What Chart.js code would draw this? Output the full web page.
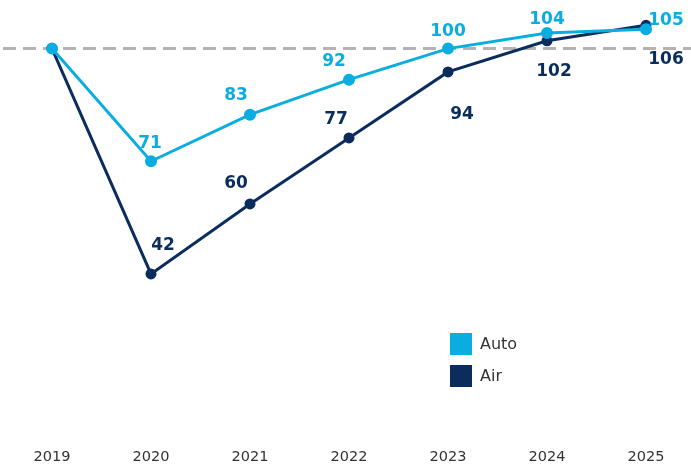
<!DOCTYPE html>
<html>
<head>
<meta charset="utf-8">
<script src="https://cdn.jsdelivr.net/npm/chart.js@4/dist/chart.umd.min.js"></script>
<style>
  html, body { margin: 0; padding: 0; background: #fff; }
  #wrap { width: 691px; height: 464px; position: relative; }
</style>
</head>
<body>
<div id="wrap"><canvas id="chart"></canvas></div>
<script>
const years = ['2019', '2020', '2021', '2022', '2023', '2024', '2025'];
const autoValues = [100, 71, 83, 92, 100, 104, 105];
const airValues = [100, 42, 60, 77, 94, 102, 106];
const baseline = 100;

const AUTO_COLOR = '#0aade0';
const AIR_COLOR = '#0b2d5e';

// label nudges (px) relative to each point; first point has no label
const autoLabelOffsets = [null, [-1, -18], [-14, -19], [-15, -18], [0, -17], [0, -13], [20, -9]];
const airLabelOffsets = [null, [12, -28], [-14, -20], [-13, -18], [14, 43], [7, 31], [20, 34]];

// dashed reference line at 100, across the full width
const baselinePlugin = {
  id: 'baseline',
  beforeDatasetsDraw(chart) {
    const ctx = chart.ctx;
    const y = chart.scales.y.getPixelForValue(baseline);
    ctx.save();
    ctx.strokeStyle = '#b3b3b3';
    ctx.lineWidth = 3;
    ctx.setLineDash([13, 7]);
    ctx.beginPath();
    ctx.moveTo(3, y);
    ctx.lineTo(chart.width, y);
    ctx.stroke();
    ctx.restore();
  }
};

const valueLabels = {
  id: 'valueLabels',
  afterDatasetsDraw(chart) {
    const ctx = chart.ctx;
    ctx.save();
    ctx.font = 'bold 17px "DejaVu Sans", Verdana, sans-serif';
    ctx.textAlign = 'center';
    ctx.textBaseline = 'middle';
    chart.data.datasets.forEach((ds, i) => {
      const meta = chart.getDatasetMeta(i);
      const offs = ds.labelOffsets;
      ctx.fillStyle = ds.borderColor;
      meta.data.forEach((pt, j) => {
        if (!offs[j]) return;
        ctx.fillText(String(ds.data[j]), pt.x + offs[j][0], pt.y + offs[j][1]);
      });
    });
    ctx.restore();
  }
};

// small boxed legend inside the plot
const boxLegend = {
  id: 'boxLegend',
  afterDraw(chart) {
    const ctx = chart.ctx;
    const x = 450, y0 = 333, step = 32, size = 22;
    ctx.save();
    ctx.font = '16px "DejaVu Sans", Verdana, sans-serif';
    ctx.textBaseline = 'middle';
    chart.data.datasets.forEach((ds, i) => {
      const y = y0 + i * step;
      ctx.fillStyle = ds.borderColor;
      ctx.fillRect(x, y, size, size);
      ctx.fillStyle = '#333';
      ctx.fillText(ds.label, x + 30, y + size / 2 + 1);
    });
    ctx.restore();
  }
};

new Chart(document.getElementById('chart'), {
  type: 'line',
  data: {
    labels: years,
    datasets: [
      {
        label: 'Auto',
        data: autoValues,
        borderColor: AUTO_COLOR,
        backgroundColor: AUTO_COLOR,
        borderWidth: 3,
        pointRadius: 4.5,
        pointHoverRadius: 4.5,
        tension: 0,
        order: 0,
        labelOffsets: autoLabelOffsets
      },
      {
        label: 'Air',
        data: airValues,
        borderColor: AIR_COLOR,
        backgroundColor: AIR_COLOR,
        borderWidth: 3,
        pointRadius: 4,
        pointHoverRadius: 4,
        tension: 0,
        order: 1,
        labelOffsets: airLabelOffsets
      }
    ]
  },
  options: {
    responsive: true,
    maintainAspectRatio: false,
    animation: false,
    layout: { autoPadding: false, padding: { left: 52, right: 45, top: 2, bottom: 0 } },
    scales: {
      x: {
        offset: false,
        grid: { display: false, drawTicks: false },
        border: { display: false },
        afterFit(scale) { scale.height = 27; },
        ticks: {
          padding: 12,
          color: '#333',
          font: { family: '"DejaVu Sans", Verdana, sans-serif', size: 14.5 },
          maxRotation: 0
        }
      },
      y: {
        display: false,
        min: 0,
        max: 112
      }
    },
    plugins: {
      legend: { display: false },
      tooltip: { enabled: false }
    }
  },
  plugins: [baselinePlugin, valueLabels, boxLegend]
});
</script>
</body>
</html>
